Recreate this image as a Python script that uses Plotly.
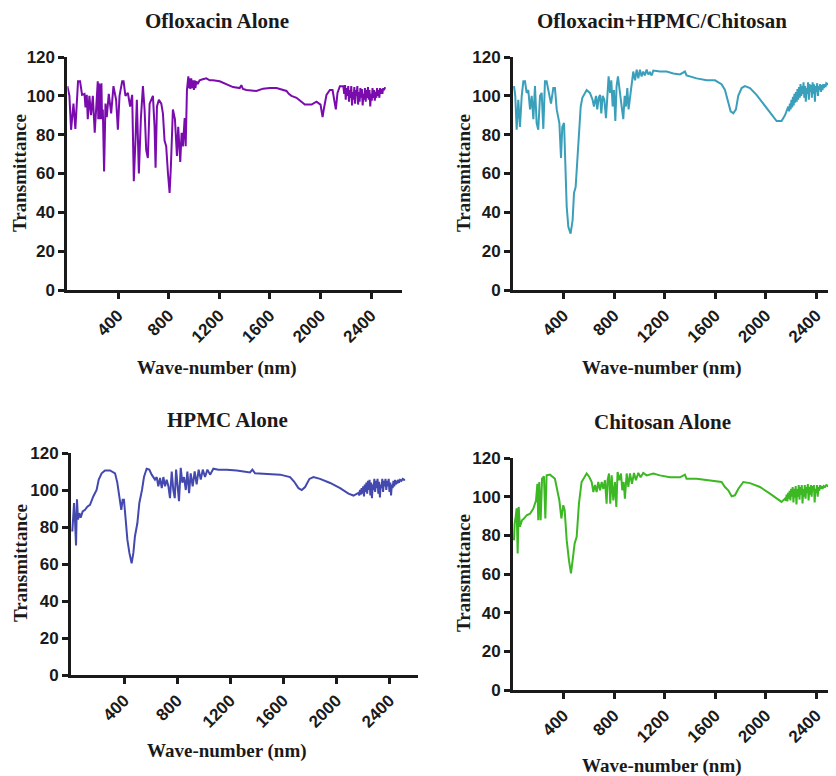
import plotly.graph_objects as go

# ---------------- data ----------------
titles = ["Ofloxacin Alone", "Ofloxacin+HPMC/Chitosan", "HPMC Alone", "Chitosan Alone"]
x_title = "Wave-number (nm)"
y_title = "Transmittance"
y_ticks = [0, 20, 40, 60, 80, 100, 120]
x_ticks = [400, 800, 1200, 1600, 2000, 2400]
colors = ["#7a0cae", "#3a9fba", "#4349ae", "#3cb823"]

ofl_x = [0, 16, 29, 48, 63, 74, 84, 100, 116, 135, 143, 153, 161, 174, 187, 201, 216, 227, 240, 244, 248, 254, 259, 263,
         269, 274, 280, 290, 301, 311, 327, 346, 364, 385, 399, 412, 433, 444, 459, 478, 496, 512, 525, 538, 549, 565,
         581, 597, 610, 623, 636, 650, 663, 676, 689, 697, 708, 723, 742, 755, 768, 781, 795, 808, 818, 834, 850, 866,
         876, 892, 903, 913, 927, 935, 945, 952, 956, 961, 966, 972, 979, 986, 993, 1000, 1006, 1012, 1019, 1030, 1045,
         1070, 1098, 1125, 1151, 1204, 1257, 1309, 1362, 1375, 1388, 1415, 1494, 1547, 1600, 1653, 1732, 1750, 1771,
         1811, 1850, 1877, 1930, 1969, 2001, 2017, 2028, 2048, 2075, 2096, 2109, 2122, 2135, 2154, 2181, 2188, 2195,
         2200, 2207, 2213, 2220, 2226, 2232, 2238, 2244, 2250, 2256, 2262, 2268, 2274, 2280, 2286, 2292, 2298, 2304,
         2310, 2316, 2322, 2328, 2334, 2340, 2346, 2352, 2358, 2364, 2370, 2376, 2382, 2388, 2394, 2400, 2406, 2412,
         2418, 2424, 2430, 2436, 2442, 2448, 2454, 2460, 2466, 2472, 2478, 2484, 2490, 2496, 2502, 2510, 2516]
ofl_t = [105, 100, 82.5, 96, 83, 100, 107.5, 107.5, 100.5, 101, 94, 100.5, 88, 100, 90, 100, 81, 93, 107.5, 88, 106.5,
         88, 106, 88, 106.5, 88, 93, 61, 96, 89, 101, 91, 105, 98, 82.5, 100, 107.5, 107.5, 100, 101.5, 94.5, 100.5, 56,
         77, 98, 60, 88.5, 105, 93, 72, 68, 96, 98, 100, 84, 63, 94.5, 98, 96, 91, 77, 74, 60, 50, 63.5, 93, 88, 69, 84,
         66, 81, 74, 88.5, 74, 103, 107, 110, 104, 109, 103.5, 109, 104, 108, 103, 108, 104, 107.5, 106, 108, 108.5, 109,
         108, 108, 107.5, 106, 104.5, 104, 105.5, 103.5, 103, 102.5, 103.7, 104, 104, 102.5, 101, 100, 99, 97, 95.5,
         95.5, 97, 95.5, 89, 93.5, 100.5, 103, 103, 98, 93, 101.5, 105, 105, 101, 105.5, 98, 104, 100, 105, 97, 103, 99,
         105, 95, 102, 98, 104.5, 96, 103, 100, 105, 95.5, 102, 97, 104, 99, 103.5, 95, 101, 98, 104, 97, 103, 99, 104.5,
         98, 103, 94.5, 101, 97.5, 104, 99, 103, 97.5, 102, 99, 104, 100, 103, 99, 104, 101, 103.5, 101, 104, 103, 104,
         104]

mix_x = [8, 18, 29, 42, 55, 69, 82, 95, 108, 121, 135, 148, 161, 174, 187, 200, 214, 227, 240, 253, 266, 288, 301, 319,
         332, 346, 367, 380, 390, 404, 414, 425, 438, 456, 472, 483, 496, 509, 522, 536, 549, 562, 583, 609, 630, 641,
         657, 667, 678, 689, 699, 710, 723, 736, 747, 757, 768, 778, 789, 799, 810, 820, 831, 842, 852, 863, 873, 884,
         894, 905, 915, 926, 939, 952, 966, 979, 992, 1005, 1018, 1031, 1044, 1058, 1071, 1084, 1097, 1111, 1163, 1216,
         1269, 1322, 1361, 1374, 1454, 1533, 1599, 1651, 1678, 1704, 1723, 1744, 1765, 1783, 1810, 1836, 1876, 1928,
         1981, 2034, 2087, 2126, 2153, 2179, 2186, 2192, 2198, 2204, 2210, 2216, 2222, 2228, 2234, 2240, 2246, 2252,
         2258, 2264, 2270, 2276, 2282, 2288, 2294, 2300, 2306, 2312, 2318, 2324, 2330, 2336, 2342, 2348, 2354, 2360,
         2366, 2372, 2378, 2384, 2390, 2396, 2402, 2408, 2414, 2420, 2426, 2432, 2438, 2444, 2450, 2456, 2462, 2468,
         2474, 2480, 2490, 2500, 2509]
mix_t = [105, 100, 82.5, 98, 84, 100, 107.5, 107.5, 101.5, 103, 93, 100, 88, 105, 86, 82.5, 100, 101.5, 83, 107.5,
         107.5, 100.5, 96, 104, 104, 93, 86, 68, 84, 86, 69, 43, 32.5, 29, 36, 50, 53, 67, 77, 94.5, 99, 100.5, 103,
         101.5, 98, 94.5, 100, 93, 99, 100.5, 91, 100, 98, 88.5, 100, 110, 101.5, 108, 94.5, 103, 87, 105, 110, 105, 98,
         93, 88, 100, 94.5, 104, 93, 98, 105, 112.5, 108, 113.5, 109, 113.5, 110, 112.5, 110.5, 113.5, 111, 112, 110.5,
         113, 112.5, 112.5, 111.5, 111, 112.5, 110.5, 109, 108, 108, 106, 103, 97, 92, 91, 93, 100, 104, 105, 104, 100.5,
         96, 91, 87, 87, 90, 94.5, 92, 96, 93, 98, 94, 99.5, 95, 101, 96.5, 102, 97, 103.5, 98, 104.5, 99, 106, 100, 105,
         101, 107, 99, 105, 97, 104, 101, 107, 98, 106, 102, 105.5, 99, 107, 101, 106, 97, 105, 102, 106.5, 100, 105, 103,
         106, 102, 105.5, 103, 106, 104, 106, 104.5, 106.5, 106, 106.5, 106.5]

hpmc_x = [10, 15, 23, 30, 38, 45, 53, 63, 73, 88, 106, 123, 143, 168, 193, 209, 231, 256, 294, 332, 349, 364, 379, 389,
          399, 410, 425, 440, 457, 470, 482, 500, 515, 535, 550, 570, 590, 608, 633, 646, 658, 671, 684, 696, 709, 721,
          734, 746, 759, 771, 782, 792, 802, 814, 827, 839, 852, 865, 877, 890, 902, 917, 932, 947, 962, 978, 993, 1010,
          1028, 1048, 1073, 1111, 1174, 1249, 1349, 1367, 1387, 1475, 1576, 1651, 1681, 1714, 1739, 1764, 1797, 1827,
          1877, 1953, 2028, 2091, 2129, 2166, 2172, 2178, 2184, 2190, 2196, 2202, 2208, 2214, 2220, 2226, 2232, 2238,
          2244, 2250, 2256, 2262, 2268, 2274, 2280, 2286, 2292, 2298, 2304, 2310, 2316, 2322, 2328, 2334, 2340, 2346,
          2352, 2358, 2364, 2370, 2376, 2382, 2388, 2394, 2400, 2406, 2412, 2418, 2424, 2430, 2436, 2442, 2448, 2454,
          2460, 2466, 2472, 2480, 2490, 2500, 2510, 2518]
hpmc_t = [77.6, 85.7, 93, 84, 70, 95, 84, 87.5, 85, 88.4, 89.3, 91, 92, 96.5, 100, 105.6, 109, 110.6, 110.6, 109, 104,
          96.5, 89.3, 94.7, 94.7, 85.7, 73, 66, 60.4, 66, 75, 82, 93, 100, 107, 111.5, 111, 108.3, 105.6, 107, 102, 106.5,
          101, 107, 102, 105.6, 102, 95.6, 110, 100, 95.6, 111, 102, 94, 112, 104, 107, 100, 110, 98.3, 109, 102, 110,
          103, 111, 105.6, 111, 107, 111, 108.3, 111.5, 111, 111, 110.6, 109.5, 111, 109, 108.8, 108.3, 107, 104.6, 101,
          100, 101.6, 106, 107, 106, 103.8, 101, 98, 97, 98.4, 97, 100, 97.5, 101, 98, 102, 96.5, 103, 99, 104, 98, 105,
          100, 105.5, 97, 104, 95.6, 103, 100, 106, 99, 105, 101, 106, 98, 104.5, 96, 103, 101, 106, 99, 105, 102, 106,
          100, 105, 102, 106, 99, 104, 97, 103, 101, 105, 102, 105.5, 103, 105, 103.5, 105.5, 104, 105.5, 105, 106, 105.5,
          105.6]

chi_x = [8, 13, 21, 29, 37, 45, 55, 71, 87, 108, 135, 161, 182, 193, 200, 208, 219, 230, 245, 256, 266, 293, 332, 351,
         367, 383, 398, 409, 425, 443, 459, 472, 488, 504, 522, 543, 570, 583, 604, 623, 636, 649, 662, 675, 689, 702,
         715, 728, 741, 749, 760, 770, 781, 794, 807, 818, 828, 842, 855, 865, 876, 886, 900, 913, 926, 942, 958, 973,
         992, 1010, 1031, 1058, 1111, 1163, 1242, 1322, 1361, 1374, 1454, 1559, 1651, 1678, 1704, 1731, 1757, 1783, 1823,
         1876, 1955, 2034, 2087, 2126, 2153, 2160, 2166, 2172, 2178, 2184, 2190, 2196, 2202, 2208, 2214, 2220, 2226,
         2232, 2238, 2244, 2250, 2256, 2262, 2268, 2274, 2280, 2286, 2292, 2298, 2304, 2310, 2316, 2322, 2328, 2334,
         2340, 2346, 2352, 2358, 2364, 2370, 2376, 2382, 2388, 2394, 2400, 2406, 2412, 2418, 2424, 2430, 2436, 2442,
         2450, 2460, 2470, 2480, 2490, 2500, 2509]
chi_t = [77.5, 86, 89.5, 94, 70.6, 94.7, 84.4, 87.8, 88.7, 90.4, 91.2, 93.8, 98, 106.7, 87.8, 107.6, 87.8, 109.3, 110.5,
         88.7, 111, 111.4, 109.3, 104, 98, 88.7, 95.6, 93, 77.5, 67, 60.3, 67, 75.8, 79.2, 96.4, 107.6, 110.2, 112, 110.2,
         107.6, 102.4, 106, 102.4, 107.6, 103.3, 107.6, 104, 108.5, 96.4, 108.5, 112, 96.4, 111, 98, 107.6, 94.7, 112.8,
         108.5, 112, 103.3, 107.6, 99, 112, 105, 112, 106.7, 112.3, 108.5, 112.3, 110, 112.3, 111, 112, 111, 110, 110,
         111.4, 109.3, 109.3, 108.5, 107.6, 105, 103.3, 100.2, 100.7, 104, 107.6, 107, 105, 101.6, 99, 97.3, 99, 98, 101,
         97.5, 102, 99, 103, 98, 104, 100, 105, 97, 104, 99.5, 105.5, 96, 104, 100, 106, 98.5, 105, 101, 106, 96.5, 104,
         100, 106, 99, 105, 102, 106.5, 98, 105, 101, 106, 100, 105.5, 103, 106, 97, 104, 102, 106, 100, 105, 103, 106,
         104, 105.5, 104, 105.5, 105, 106, 105.5, 106, 106]

series_x = [ofl_x, mix_x, hpmc_x, chi_x]
series_t = [ofl_t, mix_t, hpmc_t, chi_t]

# ---------------- layout (pixel geometry, in screen pixels) ----------------
W, H = 836, 776
OFF = 8  # page body margin in the browser
panels = [
    dict(px=(67.4, 402), py=(57, 290), xmax=2645, title=(217, 21), xt=(217, 368), yt=(19, 173)),
    dict(px=(513, 836), py=(57, 290), xmax=2557, title=(662, 21), xt=(662, 368), yt=(463, 173)),
    dict(px=(71, 418), py=(453, 675), xmax=2615, title=(227, 420), xt=(227, 751), yt=(20, 563)),
    dict(px=(513, 836), py=(458, 690), xmax=2557, title=(662, 422), xt=(662, 766), yt=(463, 573)),
]


def fx(v):
    return (v - OFF) / W


def fy(v):
    return 1 - (v - OFF) / H


fig = go.Figure()
tick_font = dict(family="Liberation Sans", size=17, color="#1a1a1a", weight="bold")
title_font = dict(family="Liberation Serif", size=21, color="#1a1a1a", weight="bold")
axis_title_font = dict(family="Liberation Serif", size=19, color="#1a1a1a", weight="bold")

annotations = []
for i, p in enumerate(panels):
    n = "" if i == 0 else str(i + 1)
    fig.add_trace(go.Scatter(x=series_x[i], y=series_t[i], mode="lines",
                             line=dict(color=colors[i], width=2),
                             xaxis="x" + n, yaxis="y" + n, showlegend=False))
    common = dict(showline=True, linecolor="#1a1a1a", linewidth=3, ticks="outside",
                  ticklen=6, tickwidth=3, tickcolor="#1a1a1a", showgrid=False,
                  zeroline=False, tickfont=tick_font, automargin=False)
    fig.layout["xaxis" + n] = dict(domain=[fx(p["px"][0]), fx(p["px"][1])],
                                   range=[0, p["xmax"]], tickvals=x_ticks, tickangle=-45,
                                   anchor="y" + n, **common)
    fig.layout["yaxis" + n] = dict(domain=[fy(p["py"][1]), fy(p["py"][0])],
                                   range=[0, 120], tickvals=y_ticks,
                                   anchor="x" + n, **common)
    annotations.append(dict(text=titles[i], x=fx(p["title"][0]), y=fy(p["title"][1]),
                            xref="paper", yref="paper", showarrow=False,
                            xanchor="center", yanchor="middle", font=title_font))
    annotations.append(dict(text=x_title, x=fx(p["xt"][0]), y=fy(p["xt"][1]),
                            xref="paper", yref="paper", showarrow=False,
                            xanchor="center", yanchor="middle", font=axis_title_font))
    annotations.append(dict(text=y_title, x=fx(p["yt"][0]), y=fy(p["yt"][1]),
                            xref="paper", yref="paper", showarrow=False, textangle=-90,
                            xanchor="center", yanchor="middle", font=axis_title_font))

fig.update_layout(width=W, height=H,
                  margin=dict(l=0, r=0, t=0, b=0, pad=0, autoexpand=False),
                  paper_bgcolor="white", plot_bgcolor="white",
                  annotations=annotations)

fig.write_html("out.html")
